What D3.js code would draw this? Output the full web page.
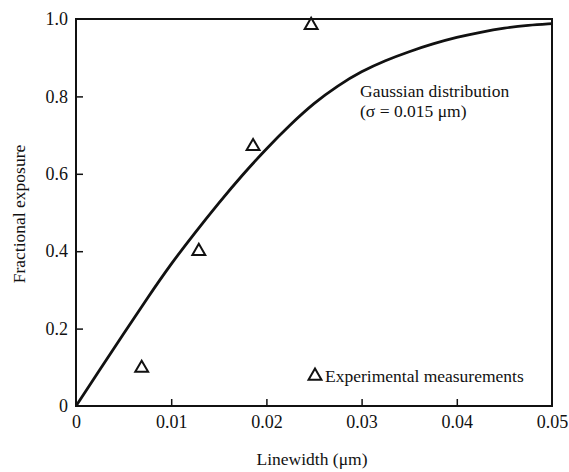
<!DOCTYPE html>
<html>
<head>
<meta charset="utf-8">
<script src="https://d3js.org/d3.v7.min.js"></script>
<style>
  body { margin: 0; background: #fff; }
  text { font-family: "Liberation Serif", "Times New Roman", serif; fill: #111; }
</style>
</head>
<body>
<script>
// curve
var curveX = [0, 0.0025, 0.005, 0.0075, 0.01, 0.0125, 0.015, 0.0175, 0.02, 0.0225, 0.025,
              0.0275, 0.03, 0.0325, 0.035, 0.0375, 0.04, 0.0425, 0.045, 0.0475, 0.05];
var curveY = [0, 0.094, 0.187, 0.279, 0.368, 0.448, 0.525, 0.598, 0.665, 0.727, 0.783,
              0.828, 0.865, 0.893, 0.916, 0.936, 0.953, 0.966, 0.977, 0.984, 0.988];
// experimental triangles
var measX = [0.0069, 0.0129, 0.0186, 0.0247];
var measY = [0.098, 0.40, 0.671, 0.984];
var xTicks = [0, 0.01, 0.02, 0.03, 0.04, 0.05];
var xTickLabels = ["0", "0.01", "0.02", "0.03", "0.04", "0.05"];
var yTicks = [0, 0.2, 0.4, 0.6, 0.8, 1.0];
var yTickLabels = ["0", "0.2", "0.4", "0.6", "0.8", "1.0"];

var width = 569, height = 472;
var plotL = 76, plotR = 552, plotT = 19, plotB = 406;
var fs = "17.5px";

var svg = d3.select("body").append("svg")
    .attr("width", width).attr("height", height);

var x = d3.scaleLinear().domain([0, 0.05]).range([plotL, plotR]);
var y = d3.scaleLinear().domain([0, 1]).range([plotB, plotT]);

// frame
svg.append("rect")
    .attr("x", plotL).attr("y", plotT)
    .attr("width", plotR - plotL).attr("height", plotB - plotT)
    .attr("fill", "none").attr("stroke", "#111").attr("stroke-width", 2);

// axes with inward ticks
var xAxis = d3.axisBottom(x).tickValues(xTicks)
    .tickFormat(function(d, i) { return xTickLabels[i]; })
    .tickSizeInner(-7).tickSizeOuter(0).tickPadding(9);
var gx = svg.append("g").attr("transform", "translate(0," + plotB + ")").call(xAxis);

var yAxis = d3.axisLeft(y).tickValues(yTicks)
    .tickFormat(function(d, i) { return yTickLabels[i]; })
    .tickSizeInner(-7).tickSizeOuter(0).tickPadding(8);
var gy = svg.append("g").attr("transform", "translate(" + plotL + ",0)").call(yAxis);

[gx, gy].forEach(function(g) {
  g.select(".domain").remove();
  g.selectAll("line").attr("stroke", "#111").attr("stroke-width", 1.5);
  g.selectAll("text").style("font-family", "Liberation Serif, serif")
    .style("font-size", "18px").attr("fill", "#111");
});
gy.selectAll(".tick").filter(function(d) { return d === 0 || d === 1; }).select("line").remove();
gx.selectAll(".tick").filter(function(d) { return d === 0 || d === 0.05; }).select("line").remove();

// curve
var line = d3.line()
    .x(function(d) { return x(d[0]); })
    .y(function(d) { return y(d[1]); })
    .curve(d3.curveBasis);
svg.append("path")
    .datum(curveX.map(function(v, i) { return [v, curveY[i]]; }))
    .attr("d", line)
    .attr("fill", "none").attr("stroke", "#111").attr("stroke-width", 2.8);

// triangles
var tri = d3.symbol().type(d3.symbolTriangle).size(72);
svg.selectAll(".meas")
    .data(measX.map(function(v, i) { return [v, measY[i]]; }))
    .enter().append("path")
    .attr("class", "meas")
    .attr("d", tri)
    .attr("transform", function(d) { return "translate(" + x(d[0]) + "," + y(d[1]) + ")"; })
    .attr("fill", "none").attr("stroke", "#111").attr("stroke-width", 2);

// annotations
svg.append("text").attr("x", 360).attr("y", 97).style("font-size", fs).text("Gaussian distribution");
svg.append("text").attr("x", 360).attr("y", 117).style("font-size", fs).text("(σ = 0.015 μm)");

svg.append("path").attr("d", tri)
    .attr("transform", "translate(315,376)")
    .attr("fill", "none").attr("stroke", "#111").attr("stroke-width", 2);
svg.append("text").attr("x", 325).attr("y", 382).style("font-size", fs).text("Experimental measurements");

// axis titles
svg.append("text").attr("x", 312).attr("y", 465).attr("text-anchor", "middle")
    .style("font-size", fs).text("Linewidth (μm)");
svg.append("text").attr("transform", "translate(25,214) rotate(-90)")
    .attr("text-anchor", "middle").style("font-size", fs).text("Fractional exposure");
</script>
</body>
</html>
